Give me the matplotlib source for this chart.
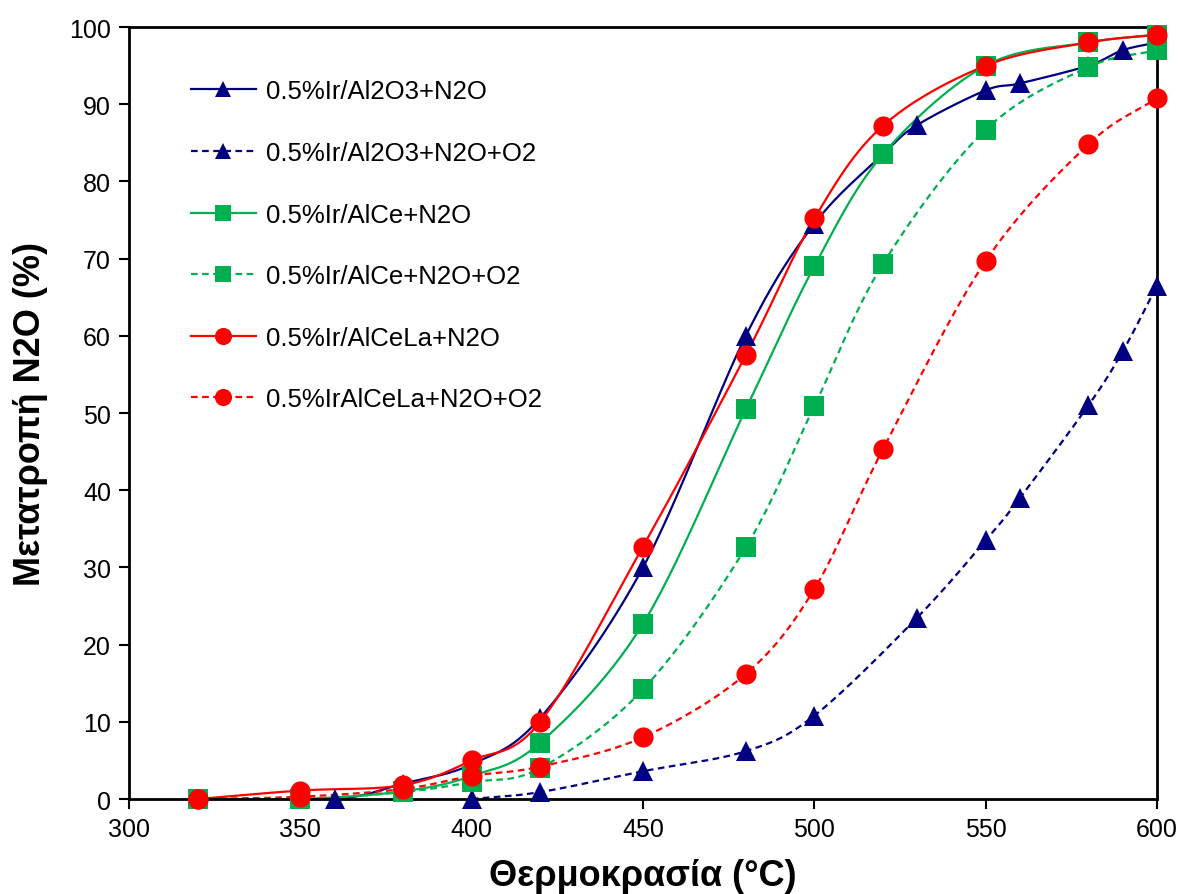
import numpy as np
import matplotlib
matplotlib.use('Agg')
import matplotlib.pyplot as plt

plt.rcParams['font.family'] = ['Liberation Sans', 'DejaVu Sans']

# data
t_al = [320, 360, 380, 400, 420, 450, 480, 500, 520, 530, 550, 560, 580, 590, 600]
al_n2o = [0, 0, 2, 4.5, 10.5, 30, 60, 74.5, 83.5, 87.3, 91.8, 92.7, 95, 97, 98]
t_al_o2 = [400, 420, 450, 480, 500, 530, 550, 560, 580, 590, 600]
al_n2o_o2 = [0, 0.9, 3.6, 6.2, 10.8, 23.5, 33.5, 39, 51, 58, 66.5]

t_std = [320, 350, 380, 400, 420, 450, 480, 500, 520, 550, 580, 600]
ce_n2o = [0, 0, 1, 3, 7.3, 22.7, 50.5, 69, 83.5, 95, 98, 99]
ce_n2o_o2 = [0, 0, 0.9, 2.2, 4, 14.2, 32.6, 50.9, 69.3, 86.7, 94.8, 97]
la_n2o = [0, 1.1, 1.8, 5, 10, 32.7, 57.5, 75.2, 87.2, 95, 98, 99]
la_n2o_o2 = [0, 0.3, 1.3, 3, 4.2, 8, 16.2, 27.2, 45.3, 69.7, 84.8, 90.8]

labels = ['0.5%Ir/Al2O3+N2O', '0.5%Ir/Al2O3+N2O+O2', '0.5%Ir/AlCe+N2O',
          '0.5%Ir/AlCe+N2O+O2', '0.5%Ir/AlCeLa+N2O', '0.5%IrAlCeLa+N2O+O2']


def smooth(x, y, n=30):
    # Catmull-Rom spline through the points, like Excel's smoothed lines
    p = np.column_stack([x, y]).astype(float)
    p = np.vstack([2 * p[0] - p[1], p, 2 * p[-1] - p[-2]])
    out = []
    s = np.linspace(0, 1, n)[:, None]
    for i in range(1, len(p) - 2):
        p0, p1, p2, p3 = p[i - 1], p[i], p[i + 1], p[i + 2]
        seg = 0.5 * ((2 * p1) + (-p0 + p2) * s + (2 * p0 - 5 * p1 + 4 * p2 - p3) * s ** 2
                     + (-p0 + 3 * p1 - 3 * p2 + p3) * s ** 3)
        out.append(seg)
    out = np.vstack(out)
    return out[:, 0], out[:, 1]


fig = plt.figure(figsize=(11.81, 8.95), dpi=100)
ax = fig.add_axes([0.1092, 0.1061, 0.8705, 0.8626])

navy = '#000080'
green = '#00B050'
red = '#FF0000'
series = [
    (t_al, al_n2o, navy, '-', '^'),
    (t_al_o2, al_n2o_o2, navy, (0, (3, 2)), '^'),
    (t_std, ce_n2o, green, '-', 's'),
    (t_std, ce_n2o_o2, green, (0, (3, 2)), 's'),
    (t_std, la_n2o, red, '-', 'o'),
    (t_std, la_n2o_o2, red, (0, (3, 2)), 'o'),
]
ms = {'^': 14, 's': 14, 'o': 14.5}
for (x, y, c, ls, m), lab in zip(series, labels):
    sx, sy = smooth(x, y)
    ax.plot(sx, sy, color=c, linestyle=ls, linewidth=1.6)
    ax.plot(x, y, linestyle='none', marker=m, color=c, markersize=ms[m],
            markeredgewidth=0, clip_on=False, zorder=3)
    # legend proxy
    ax.plot([], [], color=c, linestyle=ls, linewidth=1.6, marker=m,
            markersize=ms[m] * 0.85, markeredgewidth=0, label=lab)

ax.set_xlim(300, 600)
ax.set_ylim(0, 100)
ax.set_xticks(range(300, 601, 50))
ax.set_yticks(range(0, 101, 10))
ax.tick_params(direction='out', length=7, width=1.5, labelsize=18, colors='black', pad=6)
for sp in ax.spines.values():
    sp.set_linewidth(2)
ax.set_xlabel('Θερμοκρασία (°C)', fontsize=26, fontweight='bold', labelpad=12)
ax.set_ylabel('Μετατροπή N2O (%)', fontsize=26, fontweight='bold', labelpad=15)

leg = ax.legend(loc='upper left', bbox_to_anchor=(0.0375, 0.962), frameon=False,
                fontsize=18.5, handlelength=2.55, labelspacing=1.46, handletextpad=0.4)

fig.savefig('out.png', dpi=100)
